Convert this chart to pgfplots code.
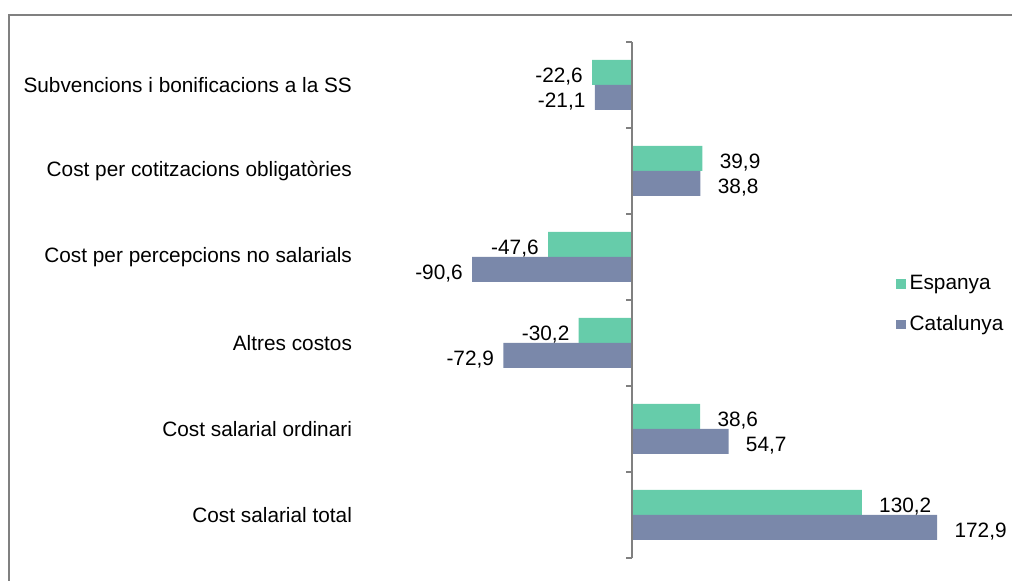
\documentclass[border=0pt]{standalone}
\usepackage{fontspec}
\setmainfont{Liberation Sans}
\usepackage{pgfplots}
\pgfplotsset{compat=1.18}
\definecolor{espanya}{RGB}{102,204,170}
\definecolor{catalunya}{RGB}{122,136,170}
\definecolor{eixgris}{RGB}{128,128,128}
\newcommand{\lletra}{\fontsize{10.4}{12.5}\selectfont}
\begin{document}
\begin{tikzpicture}
\begin{axis}[
  name=ax,
  xbar, scale only axis, clip=false,
  width=326.5pt, height=258pt,
  xmin=-154.7, xmax=215.3,
  ymin=-0.5, ymax=5.5,
  bar width=12.5pt,
  axis line style={draw=none},
  xtick=\empty,
  ytick={0,...,5},
  yticklabels={Cost salarial total, Cost salarial ordinari, Altres costos,
    Cost per percepcions no salarials, Cost per cotitzacions obligatòries,
    Subvencions i bonificacions a la SS},
  y tick style={draw=none},
  major tick length=0pt,
  tick label style={font=\lletra, text=black},
  nodes near coords,
  every node near coord/.append style={font=\lletra, text=black, inner sep=0pt, yshift=-2pt},
  /pgf/number format/use comma,
  /pgf/number format/fixed,
  /pgf/number format/fixed zerofill,
  /pgf/number format/precision=1,
  /pgf/number format/assume math mode=true,
  legend style={draw=none, fill=none, at={(axis cs:146,2.45)}, anchor=west,
    row sep=7.5pt, font=\lletra},
  legend cell align=left,
  legend image code/.code={\fill[#1, draw=none] (-2pt,-2.4pt) rectangle (2.8pt,2.4pt);},
]
% Espanya
\addplot[fill=espanya, draw=none, bar shift=6.25pt,
  every node near coord/.append style={anchor=west, xshift=8.5pt}]
  coordinates {(39.9,4) (38.6,1) (130.2,0)};
\addlegendentry{Espanya}
\addplot[fill=espanya, draw=none, bar shift=6.25pt, forget plot,
  every node near coord/.append style={anchor=east, xshift=-4.5pt}]
  coordinates {(-22.6,5) (-47.6,3) (-30.2,2)};
% Catalunya
\addplot[fill=catalunya, draw=none, bar shift=-6.25pt,
  every node near coord/.append style={anchor=west, xshift=8.5pt}]
  coordinates {(38.8,4) (54.7,1) (172.9,0)};
\addlegendentry{Catalunya}
\addplot[fill=catalunya, draw=none, bar shift=-6.25pt, forget plot,
  every node near coord/.append style={anchor=east, xshift=-4.5pt}]
  coordinates {(-21.1,5) (-90.6,3) (-72.9,2)};
% eix vertical a x=0
\draw[eixgris, line width=0.9pt] (axis cs:0,-0.5) -- (axis cs:0,5.5);
\pgfplotsinvokeforeach{-0.5,0.5,1.5,2.5,3.5,4.5,5.5}{
  \draw[eixgris, line width=0.9pt] (axis cs:0,#1) -- ++(-3pt,0pt);
}
\end{axis}
\draw[eixgris, line width=1pt] ([shift={(-175pt,-30pt)}]ax.south west)
  rectangle ([shift={(345pt,271.5pt)}]ax.south west);
\pgfresetboundingbox
\useasboundingbox ([shift={(-179.5pt,-11.5pt)}]ax.south west)
  rectangle ([shift={(326.5pt,279pt)}]ax.south west);
\end{tikzpicture}
\end{document}
